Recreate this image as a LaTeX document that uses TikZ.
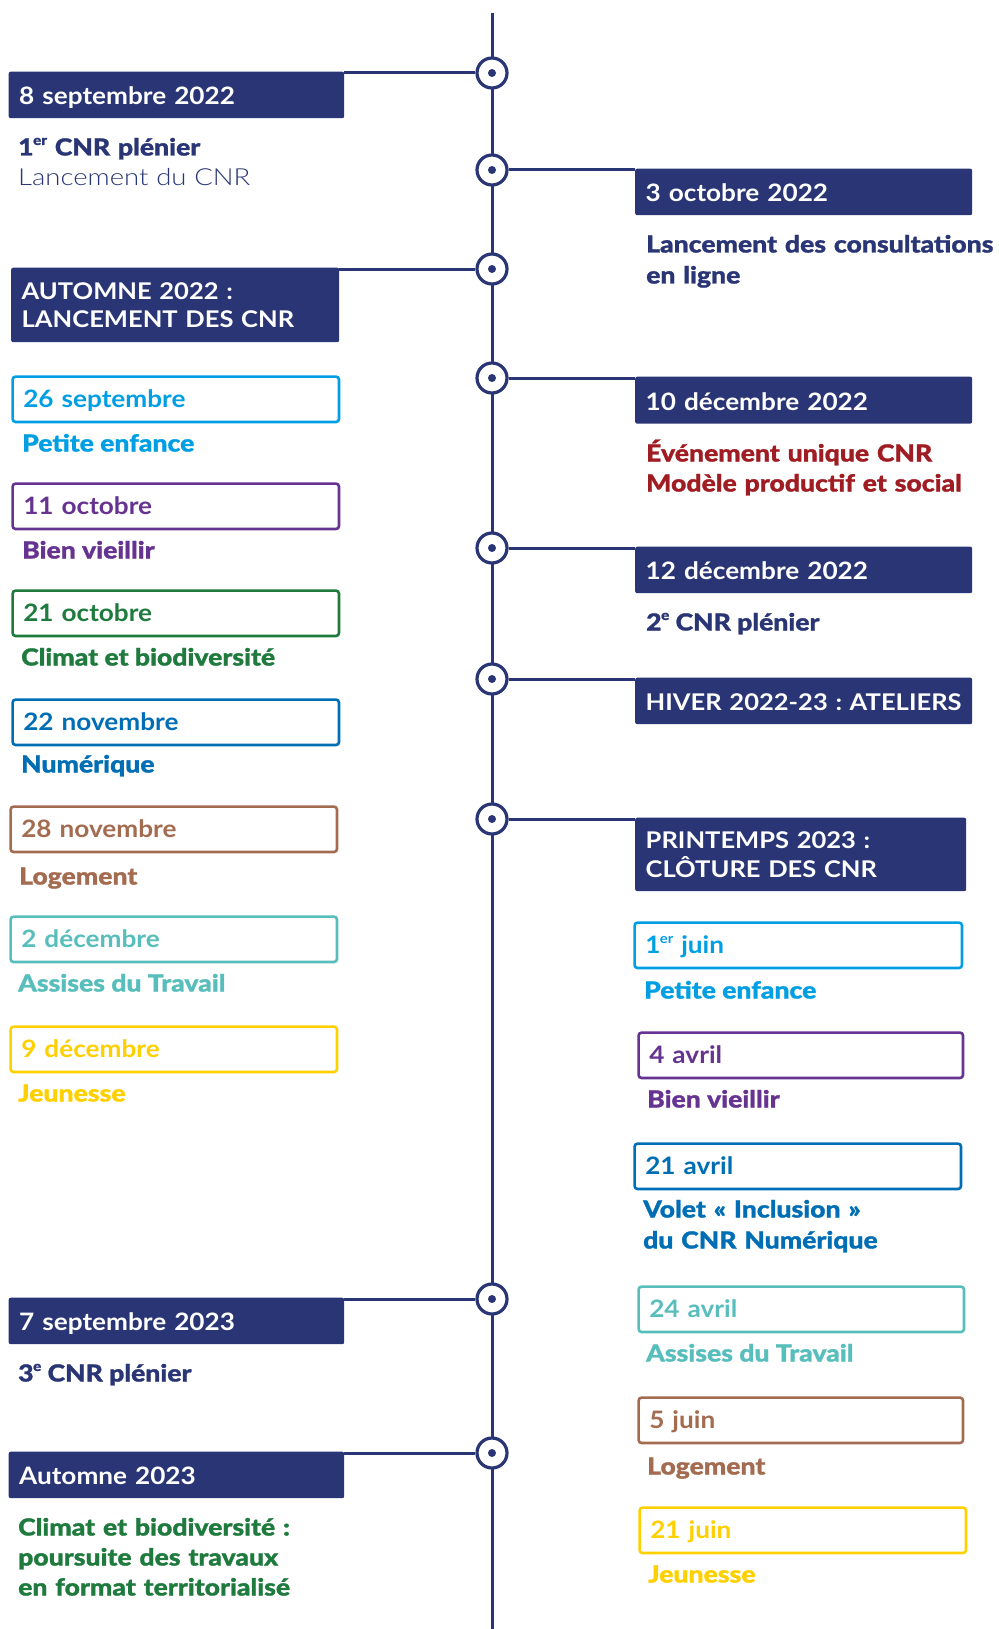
\documentclass[tikz,border=0pt]{standalone}
\usepackage{fontspec}
\usetikzlibrary{backgrounds}
\setmainfont{Lato}
% weights used in the chart, slightly widened
\newfontfamily\medraw{Lato}[FakeStretch=1.09]
\newcommand\medfont{\medraw\bfseries}
\newfontfamily\capsraw{Lato}[FakeStretch=1.11]
\newcommand\capfont{\capsraw\bfseries}
\IfFontExistsTF{Lato Heavy}{%
  \newfontfamily\heavyfont{Lato Heavy}[FakeStretch=1.13, FakeBold=1.2]}{%
  \IfFontExistsTF{Lato Black}{%
    \newfontfamily\heavyfont{Lato Black}[FakeStretch=1.1]}{%
    \newfontfamily\heavyraw{Lato}[FakeStretch=1.13, BoldFeatures={FakeBold=1.8}]%
    \newcommand\heavyfont{\heavyraw\bfseries}}}
\IfFontExistsTF{Lato Light}{%
  \newfontfamily\lightfont{Lato Light}[FakeStretch=1.17]}{%
  \newfontfamily\lightfont{Lato}[FakeStretch=1.14]}
% small raised ordinal suffix (1er, 2e, 3e)
\newcommand\expo[1]{\kern-0.5pt\raisebox{0.45em}{\fontsize{13.5}{13.5}\selectfont #1}}

\definecolor{navy}{RGB}{41,53,116}
\definecolor{cyanc}{RGB}{0,159,227}
\definecolor{purplec}{RGB}{102,51,145}
\definecolor{greenc}{RGB}{31,122,62}
\definecolor{bluec}{RGB}{0,110,180}
\definecolor{brownc}{RGB}{163,108,80}
\definecolor{tealc}{RGB}{88,190,188}
\definecolor{yellowc}{RGB}{255,208,0}
\definecolor{redc}{RGB}{160,28,35}

\begin{document}
\begin{tikzpicture}[x=1pt,y=-1pt,
  datebox/.style={fill=navy, text=white, rounded corners=2pt, anchor=north west,
    inner xsep=10.5pt, inner ysep=0pt, align=left,
    font=\medfont\fontsize{24}{28}\selectfont},
  oneline/.style={text height=24pt, text depth=4pt},
  capsfont/.style={font=\capfont\fontsize{23}{28.5}\selectfont},
  catbox/.style={draw=#1, text=#1, fill=white, line width=2.6pt, rounded corners=3pt,
    anchor=north west, inner xsep=10.7pt, inner ysep=0pt, minimum height=45.4pt,
    align=left, text height=21pt, text depth=4pt,
    font=\medfont\fontsize{24}{28}\selectfont},
  lbl/.style={text=#1, anchor=base west, inner sep=0pt, align=left,
    font=\heavyfont\fontsize{23.5}{30.5}\selectfont},
  marker/.style={circle, draw=navy, fill=white, line width=3.2pt, minimum size=30pt,
    inner sep=0pt, path picture={\fill[navy] (path picture bounding box.center) circle (4pt);}},
  link/.style={draw=navy, line width=3pt}
]
\useasboundingbox (0,0) rectangle (998,1629);

% timeline ends
\coordinate (top) at (492,13);
\coordinate (bottom) at (492,1629);

% milestones on the timeline
\node[marker] (m1) at (492,73) {};
\node[marker] (m2) at (492,170) {};
\node[marker] (m3) at (492,269) {};
\node[marker] (m4) at (492,378) {};
\node[marker] (m5) at (492,548) {};
\node[marker] (m6) at (492,679) {};
\node[marker] (m7) at (492,819) {};
\node[marker] (m8) at (492,1299) {};
\node[marker] (m9) at (492,1453) {};

% ---- left column: headings ----
\node[datebox, oneline, text width=314.5pt, minimum height=46.5pt] (d1) at (8.5,71.5) {8 septembre 2022};
\node[lbl=navy, text width=400pt] (t1) at (18,155.5) {1\expo{er} CNR plénier\\{\lightfont Lancement du CNR}};

\node[datebox, capsfont, text width=307pt, minimum height=74.5pt] (d3) at (11,267.5) {AUTOMNE 2022~:\\LANCEMENT DES CNR};

% autumn 2022 workshops
\node[catbox=cyanc, text width=305pt] (k1) at (11.3,375.3) {26 septembre};
\node[lbl=cyanc] (k1t) at (22,451.5) {Petite enfance};
\node[catbox=purplec, text width=305pt] (k2) at (11.3,482.3) {11 octobre};
\node[lbl=purplec] (k2t) at (22,558.5) {Bien vieillir};
\node[catbox=greenc, text width=305pt] (k3) at (11.3,589.3) {21 octobre};
\node[lbl=greenc] (k3t) at (21,665.5) {Climat et biodiversité};
\node[catbox=bluec, text width=305pt] (k4) at (11.3,698.3) {22 novembre};
\node[lbl=bluec] (k4t) at (21,772.5) {Numérique};
\node[catbox=brownc, text width=305pt] (k5) at (9.3,805.3) {28 novembre};
\node[lbl=brownc] (k5t) at (19,884.5) {Logement};
\node[catbox=tealc, text width=305pt] (k6) at (9.3,915.3) {2 décembre};
\node[lbl=tealc] (k6t) at (18,991.5) {Assises du Travail};
\node[catbox=yellowc, text width=305pt] (k7) at (9.3,1025.3) {9 décembre};
\node[lbl=yellowc] (k7t) at (18,1101.5) {Jeunesse};

\node[datebox, oneline, text width=314.5pt, minimum height=46.5pt] (d8) at (8.5,1297.5) {7 septembre 2023};
\node[lbl=navy] (t8) at (18,1381.5) {3\expo{e} CNR plénier};

\node[datebox, oneline, text width=314.5pt, minimum height=46.5pt] (d9) at (8.5,1451.5) {Automne 2023};
\node[lbl=greenc, text width=400pt, font=\heavyfont\fontsize{23.5}{30}\selectfont] (t9) at (18,1535.5)
  {Climat et biodiversité~:\\poursuite des travaux\\en format territorialisé};

% ---- right column: headings ----
\node[datebox, oneline, text width=316pt, minimum height=46.5pt] (d2) at (635,168.5) {3 octobre 2022};
\node[lbl=navy, text width=400pt, font=\heavyfont\fontsize{23.5}{31}\selectfont] (t2) at (646,252.5)
  {Lancement des consultations\\en ligne};

\node[datebox, oneline, text width=316pt, minimum height=47pt] (d4) at (635,376.5) {10 décembre 2022};
\node[lbl=redc, text width=400pt, font=\heavyfont\fontsize{23.5}{30}\selectfont] (t4) at (646,461.5)
  {Événement unique CNR\\Modèle productif et social};

\node[datebox, oneline, text width=316pt, minimum height=46.5pt] (d5) at (635,546.5) {12 décembre 2022};
\node[lbl=navy] (t5) at (646,630.5) {2\expo{e} CNR plénier};

\node[datebox, oneline, capsfont, text width=316pt, minimum height=46.5pt] (d6) at (635,677.5) {HIVER~2022-23~:~ATELIERS};

\node[datebox, capsfont, text width=310pt, minimum height=73.5pt] (d7) at (635,817.5) {PRINTEMPS 2023~:\\CLÔTURE DES CNR};

% spring 2023 closing sessions
\node[catbox=cyanc, text width=306pt] (r1) at (633.3,921.3) {1\expo{er} juin};
\node[lbl=cyanc] (r1t) at (644,998.5) {Petite enfance};
\node[catbox=purplec, text width=303pt] (r2) at (637.3,1031.3) {4 avril};
\node[lbl=purplec] (r2t) at (647,1107.5) {Bien vieillir};
\node[catbox=bluec, text width=305pt] (r3) at (633.3,1142.3) {21 avril};
\node[lbl=bluec, text width=400pt, font=\heavyfont\fontsize{23.5}{31}\selectfont] (r3t) at (643,1217.5)
  {Volet «~Inclusion~»\\du CNR Numérique};
\node[catbox=tealc, text width=304pt] (r4) at (637.3,1285.3) {24 avril};
\node[lbl=tealc] (r4t) at (646,1361.5) {Assises du Travail};
\node[catbox=brownc, text width=303pt] (r5) at (637.3,1396.3) {5 juin};
\node[lbl=brownc] (r5t) at (647,1474.5) {Logement};
\node[catbox=yellowc, text width=305pt] (r6) at (638.3,1506.3) {21 juin};
\node[lbl=yellowc] (r6t) at (648,1582.5) {Jeunesse};

% spine and connectors, behind everything
\begin{scope}[on background layer]
  \draw[link] (top) -- (bottom);
  \draw[link] (m1.west) -- (m1.west -| d1.east);
  \draw[link] (m2.east) -- (m2.east -| d2.west);
  \draw[link] (m3.west) -- (m3.west -| d3.east);
  \draw[link] (m4.east) -- (m4.east -| d4.west);
  \draw[link] (m5.east) -- (m5.east -| d5.west);
  \draw[link] (m6.east) -- (m6.east -| d6.west);
  \draw[link] (m7.east) -- (m7.east -| d7.west);
  \draw[link] (m8.west) -- (m8.west -| d8.east);
  \draw[link] (m9.west) -- (m9.west -| d9.east);
\end{scope}
\end{tikzpicture}
\end{document}
